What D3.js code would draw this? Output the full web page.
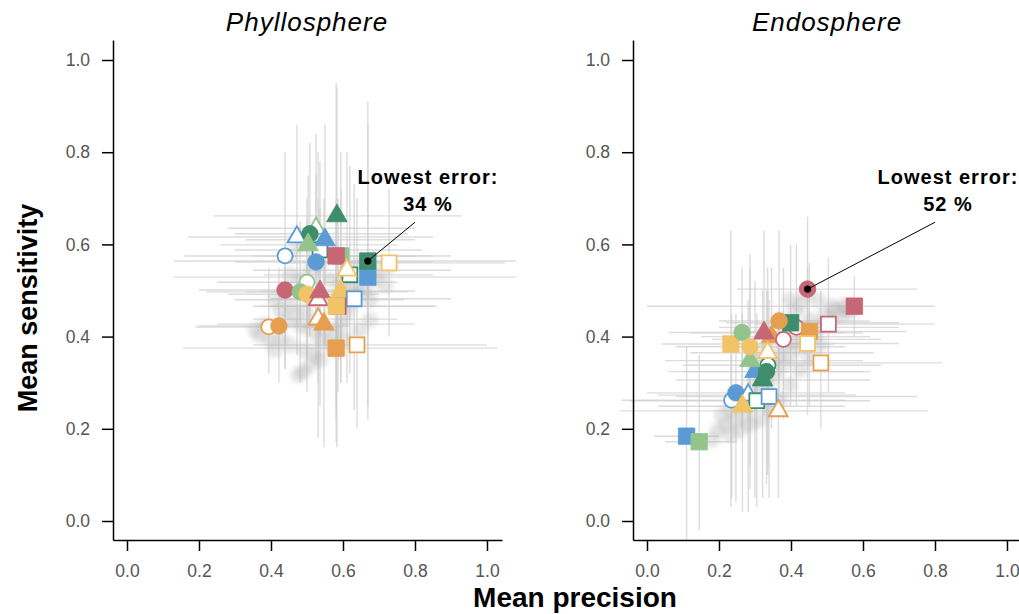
<!DOCTYPE html>
<html><head><meta charset="utf-8">
<script src="https://cdn.jsdelivr.net/npm/d3@7"></script>
<style>
html,body{margin:0;padding:0;background:#fff;}
svg text{font-family:"Liberation Sans",Arial,Helvetica,sans-serif;}
</style></head>
<body><svg id="chart" width="1019" height="614"></svg>
<script>
// ---- data ----
const panelTitles = ["Phyllosphere", "Endosphere"];
const lowestError = ["34 %", "52 %"];
const tickValues = [0, 0.2, 0.4, 0.6, 0.8, 1.0];
const groupColors = {dg:"#3e8d6d", lg:"#93c48b", bl:"#5b9bd5", rd:"#c76674", or:"#e69f4f", yl:"#f1c468"};
// [group, shape, filled, precision, sensitivity, precLo, precHi, sensLo, sensHi]
const phyllosphere = [
  ["dg","sq",0,.536,.588,.30,.82,.40,.78],
  ["bl","tri",0,.472,.616,.17,.85,.36,.86],
  ["lg","tri",0,.525,.635,.28,.80,.42,.84],
  ["dg","cir",1,.508,.623,.30,.78,.40,.82],
  ["bl","tri",1,.550,.610,.33,.80,.38,.86],
  ["lg","tri",1,.503,.599,.26,.75,.42,.75],
  ["dg","tri",1,.583,.662,.24,.93,.16,.94],
  ["bl","cir",0,.439,.575,.16,.80,.33,.80],
  ["bl","cir",1,.525,.562,.30,.85,.35,.75],
  ["lg","sq",1,.594,.575,.40,.85,.30,.80],
  ["rd","sq",1,.581,.575,.35,.90,.22,.95],
  ["yl","sq",0,.728,.560,.45,1.05,.40,.72],
  ["dg","sq",0,.619,.534,.38,.85,.32,.77],
  ["yl","tri",0,.611,.544,.35,.90,.30,.80],
  ["bl","sq",1,.669,.529,.13,1.08,.25,.86],
  ["dg","sq",1,.669,.564,.13,1.08,.22,.91],
  ["rd","cir",1,.439,.501,.20,.65,.33,.60],
  ["lg","cir",0,.500,.518,.25,.75,.35,.70],
  ["lg","cir",1,.481,.497,.22,.70,.30,.65],
  ["yl","cir",1,.500,.492,.28,.70,.28,.65],
  ["rd","tri",0,.531,.480,.30,.77,.30,.70],
  ["rd","tri",1,.536,.497,.33,.78,.25,.68],
  ["yl","tri",1,.594,.499,.37,.80,.30,.72],
  ["bl","sq",0,.631,.482,.40,.90,.24,.73],
  ["rd","sq",1,.586,.466,.35,.85,.28,.70],
  ["yl","sq",1,.581,.466,.37,.86,.25,.70],
  ["or","tri",0,.531,.438,.35,.75,.18,.80],
  ["or","tri",1,.547,.427,.25,.80,.16,.70],
  ["or","cir",0,.394,.421,.19,.60,.32,.55],
  ["or","cir",1,.422,.423,.20,.62,.30,.55],
  ["or","sq",1,.581,.375,.156,1.03,.17,.65],
  ["or","sq",0,.639,.382,.35,1.00,.20,.70]
];
const phylloBest = 15;
const endosphere = [
  ["bl","sq",1,.110,.184,.02,.20,-.04,.38],
  ["lg","sq",1,.145,.172,.05,.25,-.02,.36],
  ["bl","cir",0,.235,.262,-.07,.55,.05,.45],
  ["bl","cir",1,.247,.278,.00,.55,.04,.45],
  ["bl","tri",0,.281,.273,.03,.58,.02,.48],
  ["dg","sq",0,.305,.261,-.05,.62,.03,.45],
  ["bl","sq",0,.339,.270,.08,.75,.05,.48],
  ["yl","tri",1,.265,.249,.03,.55,.02,.45],
  ["or","tri",0,.365,.239,-.075,.78,.05,.42],
  ["dg","cir",0,.336,.338,.10,.65,.12,.50],
  ["bl","tri",1,.300,.324,.06,.60,.05,.52],
  ["dg","cir",1,.332,.324,.10,.62,.08,.50],
  ["dg","tri",1,.321,.306,.08,.62,.05,.50],
  ["lg","tri",1,.286,.348,.05,.60,.07,.55],
  ["yl","sq",1,.233,.384,.04,.52,.03,.63],
  ["lg","cir",1,.264,.409,.06,.55,.20,.55],
  ["yl","cir",1,.286,.378,.08,.55,.12,.58],
  ["or","tri",1,.346,.400,.15,.62,.20,.55],
  ["rd","tri",1,.325,.408,.12,.60,.23,.63],
  ["rd","cir",0,.379,.394,.18,.65,.22,.55],
  ["yl","tri",0,.335,.365,.12,.63,.10,.55],
  ["rd","cir",0,.415,.420,.20,.70,.25,.60],
  ["dg","sq",1,.399,.430,.22,.70,.25,.60],
  ["or","cir",1,.367,.434,.20,.62,.28,.63],
  ["or","sq",1,.451,.411,.25,.72,.25,.56],
  ["yl","sq",0,.446,.385,.24,.70,.23,.55],
  ["rd","sq",0,.504,.427,.30,.80,.28,.57],
  ["or","sq",0,.483,.343,.30,.82,.20,.50],
  ["rd","sq",1,.576,.466,.00,.80,.40,.53],
  ["rd","cir",1,.446,.503,.25,.75,.40,.66]
];
const endoBest = 29;
// background cloud of all other model runs [precision, sensitivity]
const phylloCloud = [
  [.411,.479],[.425,.458],[.439,.436],[.453,.469],[.467,.447],[.481,.425],[.494,.458],[.508,.414],
  [.522,.436],[.536,.393],[.55,.414],[.564,.382],[.578,.403],[.592,.425],[.606,.447],[.619,.469],
  [.633,.49],[.647,.512],[.661,.501],[.675,.479],[.689,.523],[.703,.544],[.717,.512],[.731,.555],
  [.481,.523],[.508,.544],[.536,.555],[.564,.523],[.592,.512],[.619,.501],[.453,.534],[.439,.501],
  [.383,.425],[.369,.403],[.397,.393],[.425,.397],[.356,.414],[.411,.371],[.453,.382],[.494,.371],
  [.522,.36],[.508,.338],[.489,.323],[.475,.317],[.536,.349],[.578,.371],[.606,.393],[.647,.414],
  [.675,.436],[.453,.577],[.481,.599],[.564,.588],[.606,.555],[.647,.555]
];
const endoCloud = [
  [.181,.176],[.197,.197],[.217,.208],[.208,.23],[.231,.241],[.244,.219],[.258,.252],[.272,.23],
  [.281,.273],[.292,.252],[.3,.295],[.314,.273],[.319,.317],[.336,.295],[.342,.338],[.356,.317],
  [.364,.36],[.378,.338],[.383,.382],[.397,.36],[.411,.393],[.425,.375],[.439,.414],[.453,.436],
  [.467,.403],[.481,.425],[.494,.447],[.508,.436],[.522,.458],[.536,.447],[.55,.469],[.564,.453],
  [.231,.187],[.258,.197],[.286,.208],[.314,.219],[.342,.241],[.369,.262],[.397,.295],[.425,.328],
  [.453,.354],[.481,.382],[.397,.479],[.425,.469],[.411,.453],[.369,.436],[.328,.371],[.3,.349],
  [.439,.49],[.475,.479],[.514,.466],[.553,.458]
];
const annotAnchor = [0.8, 0.648];
const annotText = [0.836, 0.731, 0.672];

// ---- drawing ----
const svg = d3.select("#chart");
const defs = svg.append("defs");
defs.append("filter").attr("id", "soft").attr("x", "-20%").attr("y", "-20%").attr("width", "140%").attr("height", "140%")
  .append("feGaussianBlur").attr("stdDeviation", 2.2);
const yScale = d3.scaleLinear().domain([-0.0412, 1.0434]).range([540, 40]);
const panels = [
  {title: panelTitles[0], data: phyllosphere, cloud: phylloCloud, best: phylloBest, err: lowestError[0], x0: 113},
  {title: panelTitles[1], data: endosphere, cloud: endoCloud, best: endoBest, err: lowestError[1], x0: 633}
];
const symType = {sq: d3.symbolSquare, cir: d3.symbolCircle, tri: d3.symbolTriangle};
const symSize = {sq: 270, cir: 215, tri: 185};

panels.forEach(p => {
  const x = d3.scaleLinear().domain([-0.0389, 1.0417]).range([p.x0, p.x0 + 389]);
  const g = svg.append("g");

  // error bars
  const eb = g.append("g").attr("stroke", "#d0d0d0").attr("stroke-width", 1.4).attr("stroke-opacity", 0.75);
  p.data.forEach(d => {
    eb.append("line").attr("x1", x(d[5])).attr("x2", x(d[6])).attr("y1", yScale(d[4])).attr("y2", yScale(d[4]));
    eb.append("line").attr("x1", x(d[3])).attr("x2", x(d[3])).attr("y1", yScale(d[7])).attr("y2", yScale(d[8]));
  });

  // cloud
  g.append("g").attr("filter", "url(#soft)").selectAll("circle").data(p.cloud).join("circle")
    .attr("cx", d => x(d[0])).attr("cy", d => yScale(d[1])).attr("r", 8)
    .attr("fill", "#b0b0b0").attr("fill-opacity", 0.32);

  // markers
  g.append("g").selectAll("path").data(p.data).join("path")
    .attr("transform", d => `translate(${x(d[3])},${yScale(d[4])})`)
    .attr("d", d => d3.symbol(symType[d[1]], d[2] ? symSize[d[1]] : symSize[d[1]] * 0.82)())
    .attr("fill", d => d[2] ? groupColors[d[0]] : "#fff")
    .attr("stroke", d => groupColors[d[0]])
    .attr("stroke-width", d => d[2] ? 0.8 : 1.8);

  // best annotation
  const b = p.data[p.best];
  g.append("line").attr("x1", x(b[3])).attr("y1", yScale(b[4]))
    .attr("x2", x(annotAnchor[0])).attr("y2", yScale(annotAnchor[1]))
    .attr("stroke", "#000").attr("stroke-width", 1);
  g.append("circle").attr("cx", x(b[3])).attr("cy", yScale(b[4])).attr("r", 3.6).attr("fill", "#000");
  g.append("text").attr("x", x(annotText[0])).attr("y", yScale(annotText[1]))
    .attr("text-anchor", "middle").attr("font-size", 20).attr("font-weight", "bold")
    .attr("letter-spacing", "1px").text("Lowest error:");
  g.append("text").attr("x", x(annotText[0])).attr("y", yScale(annotText[2]))
    .attr("text-anchor", "middle").attr("font-size", 20).attr("font-weight", "bold")
    .attr("letter-spacing", "1px").text(p.err);

  // axes
  const ax = g.append("g").attr("transform", "translate(0,540)")
    .call(d3.axisBottom(x).tickValues(tickValues).tickFormat(d3.format(".1f"))
      .tickSize(11).tickSizeOuter(0).tickPadding(14));
  const ay = g.append("g").attr("transform", `translate(${p.x0},0)`)
    .call(d3.axisLeft(yScale).tickValues(tickValues).tickFormat(d3.format(".1f"))
      .tickSize(11).tickSizeOuter(0).tickPadding(12));
  [ax, ay].forEach(a => {
    a.select(".domain").attr("stroke", "#000").attr("stroke-width", 1.5);
    a.selectAll(".tick line").attr("stroke", "#000").attr("stroke-width", 1.5);
    a.selectAll(".tick text").attr("font-size", 17.5).attr("fill", "#555")
      .attr("font-family", '"Liberation Sans",Arial,sans-serif');
  });

  // title
  g.append("text").attr("x", x(0.5)).attr("y", 31).attr("text-anchor", "middle")
    .attr("font-size", 26).attr("font-style", "italic").attr("letter-spacing", "1px")
    .text(p.title);
});

// axis titles
svg.append("text").attr("x", 575).attr("y", 607).attr("text-anchor", "middle")
  .attr("font-size", 28).attr("font-weight", "bold").text("Mean precision");
svg.append("text").attr("transform", "translate(37,308) rotate(-90)").attr("text-anchor", "middle")
  .attr("font-size", 27).attr("font-weight", "bold").text("Mean sensitivity");
</script>
</body></html>
